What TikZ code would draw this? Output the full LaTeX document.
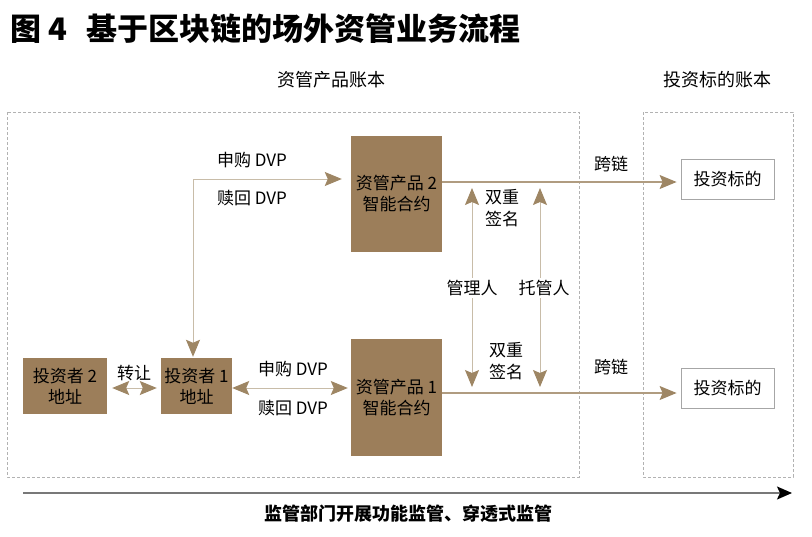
\documentclass[tikz,border=0pt]{standalone}
\usepackage{fontspec}
\setmainfont{Noto Sans CJK SC}
\usetikzlibrary{arrows.meta}
\definecolor{boxbrown}{RGB}{156,126,90}
\definecolor{tipbrown}{RGB}{158,134,100}
\definecolor{linetan}{RGB}{200,188,168}
\definecolor{linedark}{RGB}{176,156,128}
\definecolor{dashgray}{RGB}{178,178,178}
\definecolor{axisgray}{RGB}{120,120,120}
\tikzset{
  tipb/.tip={Stealth[length=17pt,width=14pt,inset=3pt,color=tipbrown]},
  brownbox/.style={fill=boxbrown,draw=none,align=center,inner sep=0pt,
    font=\fontsize{17}{21}\selectfont},
  whitebox/.style={fill=white,draw=gray!70,line width=0.8pt,inner sep=0pt,
    font=\fontsize{17}{21}\selectfont},
  lbl/.style={align=center,inner sep=2pt,font=\fontsize{17}{22}\selectfont},
  heading/.style={font=\fontsize{18}{22}\selectfont},
  ledger/.style={draw=dashgray,line width=0.8pt,dash pattern=on 3pt off 2pt},
  conn/.style={draw=linetan,line width=1pt},
  connd/.style={draw=linedark,line width=1.2pt},
}
\begin{document}
\begin{tikzpicture}[x=1pt,y=-1pt]
\useasboundingbox (0,0) rectangle (812,536);
% title
\node[anchor=west,inner sep=0pt,font=\fontsize{31}{31}\selectfont\bfseries] (t1) at (10,29) {图 4};
\node[anchor=west,inner sep=0pt,font=\fontsize{31}{31}\selectfont\bfseries] (t2) at (86,29) {基于区块链的场外资管业务流程};
% headings
\node[heading] (h1) at (331,80) {资管产品账本};
\node[heading] (h2) at (717,80) {投资标的账本};
% ledgers
\draw[ledger] (7,112) rectangle (579,477);
\draw[ledger] (643,112) rectangle (793,477);
% boxes
\node[brownbox,minimum width=84pt,minimum height=56pt] (inv2) at (65,386) {投资者 2\\地址};
\node[brownbox,minimum width=71pt,minimum height=56pt] (inv1) at (196.5,386) {投资者 1\\地址};
\node[brownbox,minimum width=91pt,minimum height=116pt] (prod2) at (396.5,194) {资管产品 2\\智能合约};
\node[brownbox,minimum width=91pt,minimum height=117pt] (prod1) at (396.5,397.5) {资管产品 1\\智能合约};
\node[whitebox,minimum width=93pt,minimum height=40pt] (tgt2) at (727.5,179) {投资标的};
\node[whitebox,minimum width=93pt,minimum height=40pt] (tgt1) at (727.5,388) {投资标的};
% helper coordinates
\coordinate (c1) at (193,179);
\coordinate (yA) at (0,182);
\coordinate (yB) at (0,393);
\coordinate (yL) at (0,388);
\coordinate (cx) at (540,0);
% labels
\node[lbl] (sg2) at (252,160) {申购 DVP};
\node[lbl] (sh2) at (252,198) {赎回 DVP};
\node[lbl] (sg1) at (293,369) {申购 DVP};
\node[lbl] (sh1) at (293,408) {赎回 DVP};
\node[lbl] (zr) at (134,373) {转让};
\node[lbl] (kl2) at (611,164) {跨链};
\node[lbl] (kl1) at (611,367) {跨链};
\node[lbl] (mgr) at (472,288) {管理人};
\node[lbl] (cust) at (544,288) {托管人};
\node[lbl] (sq2) at (502,208) {双重\\签名};
\node[lbl] (sq1) at (506,361) {双重\\签名};
% connectors
\draw[conn,tipb-tipb,shorten <=1pt,shorten >=9pt] (inv1.north -| c1) -- (c1) -- (prod2.west |- c1);
\draw[conn,tipb-tipb,shorten <=5pt,shorten >=4pt] (inv2.east |- yL) -- (inv1.west |- yL);
\draw[conn,tipb-tipb,shorten >=3pt] (inv1.east |- yL) -- (prod1.west |- yL);
\draw[connd,-tipb,shorten >=4pt] (prod2.east |- yA) -- (tgt2.west |- yA);
\draw[connd,-tipb,shorten >=4pt] (prod1.east |- yB) -- (tgt1.west |- yB);
\draw[conn,-tipb,shorten >=6pt] (mgr.north) -- (mgr.north |- yA);
\draw[conn,-tipb,shorten >=6pt] (mgr.south) -- (mgr.south |- yB);
\draw[conn,-tipb,shorten >=6pt] (cust.north -| cx) -- (cx |- yA);
\draw[conn,-tipb,shorten >=6pt] (cust.south -| cx) -- (cx |- yB);
% supervision axis
\coordinate (bs) at (23,493);
\coordinate (be) at (792,493);
\draw[draw=axisgray,line width=1.5pt,-{Stealth[length=15pt,width=13pt,inset=3pt,color=black]}] (bs) -- (be);
\node[heading,font=\fontsize{18}{22}\selectfont\bfseries] (sup) at (408,514) {监管部门开展功能监管、穿透式监管};
\end{tikzpicture}
\end{document}
